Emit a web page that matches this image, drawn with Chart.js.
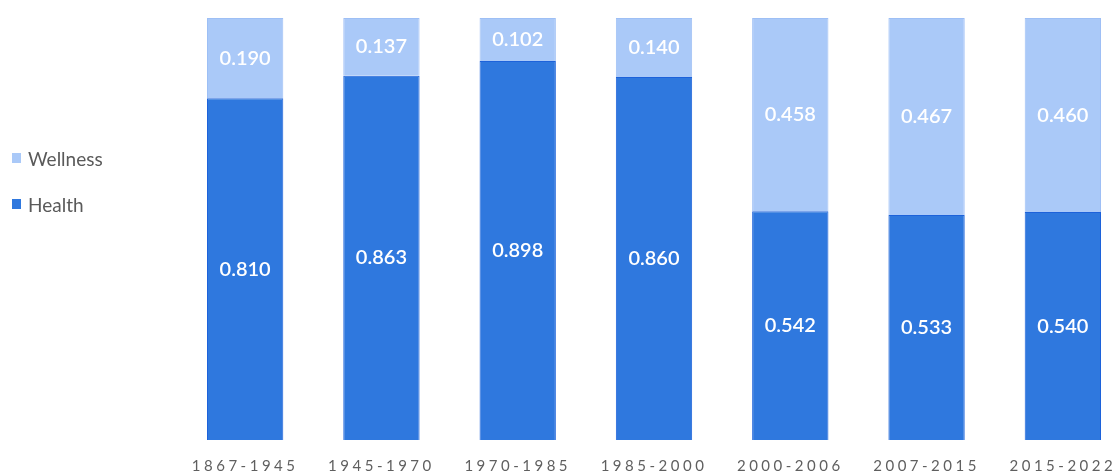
<!DOCTYPE html>
<html>
<head>
<meta charset="utf-8">
<script src="https://cdn.jsdelivr.net/npm/chart.js@4.4.1/dist/chart.umd.min.js"></script>
<style>
  html, body { margin: 0; padding: 0; background: #fff; overflow: hidden; width: 1120px; height: 475px; }
  #wrap { position: absolute; left: 0; top: 0; width: 1131px; height: 475px; }
  #legend { position: absolute; left: 12px; top: 146px; font-family: Lato, "Open Sans", sans-serif; font-size: 19px; color: #5a5a5a; }
  .item { display: flex; align-items: center; height: 24px; margin-bottom: 22px; }
  .sw { width: 9px; height: 10px; margin-right: 7px; box-sizing: border-box; }
</style>
</head>
<body>
<div id="wrap"><canvas id="c"></canvas></div>
<div id="legend"></div>
<script>
const categories = ["1867-1945", "1945-1970", "1970-1985", "1985-2000", "2000-2006", "2007-2015", "2015-2022"];
const healthValues = [0.810, 0.863, 0.898, 0.860, 0.542, 0.533, 0.540];
const wellnessValues = [0.190, 0.137, 0.102, 0.140, 0.458, 0.467, 0.460];
const seriesNames = ["Health", "Wellness"];

const healthColor = "#2f78de";
const healthBorder = "#1d62da";
const wellnessColor = "#aac9f8";
const wellnessBorder = "#9ebff5";

const letterSpacingPlugin = {
  id: "tickSpacing",
  beforeDraw(chart) { chart.ctx.letterSpacing = "3.5px"; },
  beforeDatasetsDraw(chart) { chart.ctx.letterSpacing = "0px"; }
};

const valueLabels = {
  id: "valueLabels",
  afterDatasetsDraw(chart) {
    const ctx = chart.ctx;
    ctx.save();
    ctx.letterSpacing = "0px";
    ctx.fillStyle = "#ffffff";
    ctx.font = "600 20px Lato, 'Open Sans', sans-serif";
    ctx.textAlign = "center";
    ctx.textBaseline = "middle";
    chart.data.datasets.forEach((ds, di) => {
      const meta = chart.getDatasetMeta(di);
      meta.data.forEach((bar, i) => {
        const y = (bar.y + bar.base) / 2;
        ctx.fillText(ds.data[i].toFixed(3), bar.x, y);
      });
    });
    ctx.restore();
  }
};

const chart = new Chart(document.getElementById("c"), {
  type: "bar",
  data: {
    labels: categories,
    datasets: [
      { label: seriesNames[0], data: healthValues, backgroundColor: healthColor, borderColor: healthBorder, borderWidth: 1 },
      { label: seriesNames[1], data: wellnessValues, backgroundColor: wellnessColor, borderColor: wellnessBorder, borderWidth: 1 }
    ]
  },
  options: {
    responsive: true,
    maintainAspectRatio: false,
    animation: false,
    events: [],
    layout: { padding: { left: 177, top: 18, right: 0, bottom: 0 } },
    datasets: { bar: { categoryPercentage: 0.56, barPercentage: 1.0 } },
    plugins: { legend: { display: false }, tooltip: { enabled: false } },
    scales: {
      x: {
        stacked: true,
        grid: { display: false, drawTicks: false },
        border: { display: false },
        ticks: { color: "#5f5f5f", font: { family: "Lato, 'Open Sans', sans-serif", size: 15 }, padding: 17, maxRotation: 0, autoSkip: false },
        afterFit(scale) { scale.height = 35; }
      },
      y: { stacked: true, display: false, min: 0, max: 1 }
    }
  },
  plugins: [letterSpacingPlugin, valueLabels]
});

// HTML legend built from datasets (reverse order: Wellness on top)
const legend = document.getElementById("legend");
chart.data.datasets.slice().reverse().forEach(ds => {
  const item = document.createElement("div");
  item.className = "item";
  const sw = document.createElement("span");
  sw.className = "sw";
  sw.style.background = ds.backgroundColor;
  const t = document.createElement("span");
  t.textContent = ds.label;
  item.appendChild(sw); item.appendChild(t);
  legend.appendChild(item);
});
</script>
</body>
</html>
